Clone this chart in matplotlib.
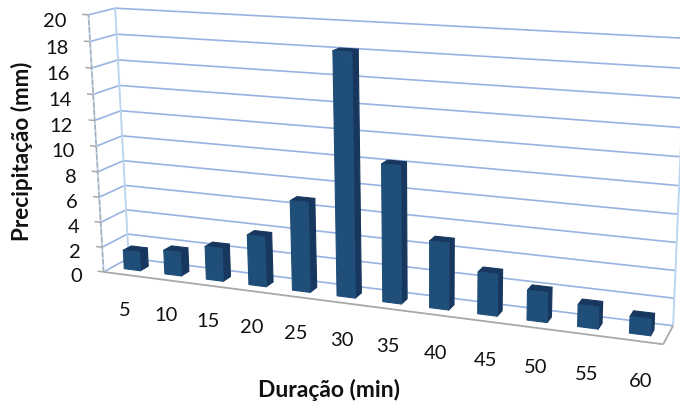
import numpy as np
import matplotlib
matplotlib.use('Agg')
import matplotlib.pyplot as plt
from mpl_toolkits.mplot3d import proj3d
from mpl_toolkits.mplot3d.art3d import Line3DCollection

plt.rcParams['font.family'] = ['Lato', 'DejaVu Sans']

# Datos
duracao = [5, 10, 15, 20, 25, 30, 35, 40, 45, 50, 55, 60]
precipitacao = [1.5, 1.9, 2.6, 3.9, 6.9, 18.2, 10.3, 5.0, 3.1, 2.2, 1.6, 1.2]
ticks_z = list(range(0, 21, 2))

# Esquinas de la caja (categoria, fondo, valor) y donde caen en la imagen
mundo = [(0, 0, 0), (0, 0, 20), (0, 1, 0), (0, 1, 20), (12, 1, 0), (12, 1, 20), (12, 0, 0)]
imagen = [(104, 272), (88, 15), (128.3, 258), (115.7, 8), (673, 326), (685.5, 38.3), (663.3, 344)]

# Camara: resolvemos la homografia por minimos cuadrados
A = []
b = []
for (x, y, z), (u, v) in zip(mundo, imagen):
    A.append([x, y, z, 1, 0, 0, 0, 0, -u*x, -u*y, -u*z])
    A.append([0, 0, 0, 0, x, y, z, 1, -v*x, -v*y, -v*z])
    b += [u, v]
p = np.linalg.lstsq(np.array(A, float), np.array(b, float), rcond=None)[0]
M = np.array([[p[0], p[1], p[2], p[3]],
              [p[4], p[5], p[6], p[7]],
              [0, 1, 0, 0],
              [p[8], p[9], p[10], 1]])

fig = plt.figure(figsize=(6.8, 4.07), dpi=100)
ax = fig.add_subplot(projection='3d')
ax.set_position([0, 0, 1, 1])
ax.get_proj = lambda: M
ax.apply_aspect = lambda position=None: None
ax.set_axis_off()
ax.computed_zorder = False

azul_grid = '#98b3e2'
azul_claro = '#bcd5f0'
gris = '#a8a8a8'
negro = '#111111'


def lineas(segmentos, **kw):
    ax.add_collection3d(Line3DCollection(segmentos, **kw))


# Paredes
rejilla = []
marcas = []
for v in ticks_z:
    rejilla.append([(0, 0, v), (0, 1, v)])
    rejilla.append([(0, 1, v), (12, 1, v)])
    marcas.append([(-0.15, 0, v), (0, 0, v)])
lineas(rejilla, colors=azul_grid, linewidths=1.2, zorder=1)
lineas(marcas, colors=gris, linewidths=1.1, zorder=2)
lineas([[(0, 1, 0), (0, 1, 20)], [(12, 1, 0), (12, 1, 20)], [(0, 0, 0), (0, 0, 20)]],
       colors=azul_claro, linewidths=1.4, zorder=1)
lineas([[(0, 0, 0), (0, 0, 20)]], colors=gris, linewidths=0.9, linestyles=[(0, (4, 2))], zorder=2)
lineas([[(0, 0, 0), (12, 0, 0)], [(12, 0, 0), (12, 1, 0)]], colors=gris, linewidths=1.3, zorder=2)

# Barras
n = len(duracao)
ancho = 0.40
fondo = 0.32
frente = '#1f4e79'
sombra = '#17375e'
nada = (0, 0, 0, 0)
# orden de caras en bar3d: abajo, arriba, frente, detras, izq, der
caras = [nada, sombra, frente, nada, nada, sombra] * n
xs = np.arange(n) + 0.5 - ancho/2
ax.bar3d(xs, np.full(n, 0.34), np.zeros(n), ancho, fondo, precipitacao,
         color=caras, edgecolor=caras, linewidth=0.8, shade=False, zorder=3)


def etiqueta(x, y, z, s, **kw):
    px, py, _ = proj3d.proj_transform(x, y, z, M)
    ax.text2D(px, py, s, transform=ax.transData, fontsize=14.5, color=negro, va='center', **kw)


# Etiquetas
for v in ticks_z:
    etiqueta(-0.54, 0, v - 0.6, str(v), ha='right')
for i, d in enumerate(duracao):
    etiqueta(i*1.012 + 0.47, 0, -2.9, str(d), ha='center')

fig.text(22/680, 1 - 151/407, 'Precipitação (mm)', rotation=90, ha='center', va='center',
         fontsize=16.2, fontweight='bold', color=negro)
fig.text(328.5/680, 1 - 390/407, 'Duração (min)', ha='center', va='center',
         fontsize=16.5, fontweight='bold', color=negro)

ax.viewLim.intervalx = (0, 680)
ax.viewLim.intervaly = (407, 0)

fig.savefig('out.png', dpi=100)
